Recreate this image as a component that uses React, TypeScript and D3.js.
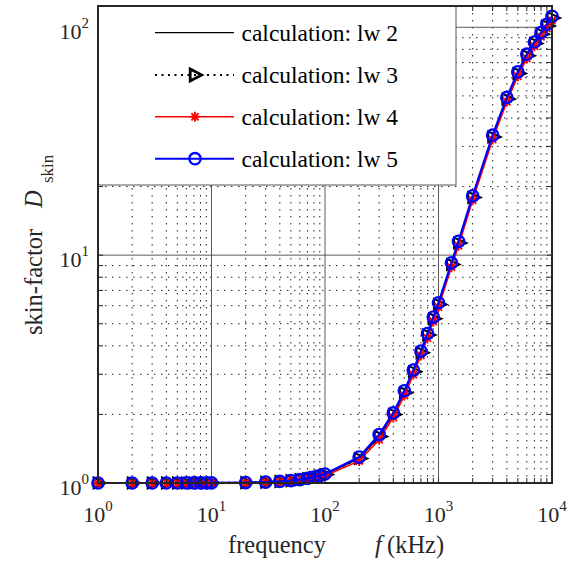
import React from "react";
import * as d3 from "d3";

const freqs = [1,2,3,4,5,6,7,8,9,10,20,30,40,50,60,70,80,90,100,200,300,400,500,600,700,800,900,1000,1300,1500,2000,3000,4000,5000,6000,7000,8000,9000,10000];
const lw5 = [1.000,1.000,1.000,1.000,1.000,1.001,1.001,1.001,1.001,1.001,1.004,1.009,1.016,1.025,1.035,1.047,1.061,1.077,1.095,1.30,1.63,2.03,2.54,3.13,3.79,4.53,5.35,6.18,9.25,11.5,18.2,33.6,49.2,63.7,76.2,86.2,94.8,103.0,111.7];
const lw4 = [1.000,1.000,1.000,1.000,1.000,1.000,1.000,1.000,1.001,1.001,1.003,1.007,1.012,1.019,1.027,1.037,1.049,1.062,1.077,1.25,1.55,1.94,2.42,2.99,3.63,4.33,5.12,5.92,8.85,11.0,17.4,32.2,47.1,61.0,73.0,82.6,90.8,98.7,107.0];
const lw3 = [1.000,1.000,1.000,1.000,1.000,1.000,1.001,1.001,1.001,1.001,1.004,1.008,1.015,1.023,1.033,1.044,1.057,1.072,1.089,1.28,1.60,2.00,2.49,3.08,3.73,4.46,5.26,6.08,9.10,11.3,17.9,33.0,48.4,62.7,75.0,84.8,93.3,101.4,109.9];
const lw2 = [1.000,1.000,1.000,1.000,1.000,1.000,1.001,1.001,1.001,1.001,1.004,1.008,1.015,1.023,1.033,1.044,1.057,1.072,1.089,1.28,1.60,2.00,2.49,3.08,3.73,4.46,5.26,6.08,9.10,11.3,17.9,33.0,48.4,62.7,75.0,84.8,93.3,101.4,109.9];
const legendLabels = ["calculation: lw 2","calculation: lw 3","calculation: lw 4","calculation: lw 5"];
const xMajor = [1,10,100,1000,10000];
const yMajor = [1,10,100];
const xDomain = [1, 10000];
const yDomain = [1, 124];

const L = 98, R = 552, T = 6, B = 483;
const FONT = "'Liberation Serif','Times New Roman',serif";

function Tri({ x, y, s = 5.5, w = 2, tip = 1.45 }: { x: number; y: number; s?: number; w?: number; tip?: number }) {
  return <path d={`M${x - s * 0.8},${y - s}L${x + s * tip},${y}L${x - s * 0.8},${y + s}Z`} fill="none" stroke="#000" strokeWidth={w} strokeLinejoin="miter" />;
}
function Star({ x, y, s = 5 }: { x: number; y: number; s?: number }) {
  const d = s * 0.72;
  return <path d={`M${x - s},${y}H${x + s}M${x},${y - s}V${y + s}M${x - d},${y - d}L${x + d},${y + d}M${x - d},${y + d}L${x + d},${y - d}`} stroke="#ff0000" strokeWidth={1.9} fill="none" />;
}
function Circ({ x, y }: { x: number; y: number }) {
  return <circle cx={x} cy={y} r={5.7} fill="none" stroke="#0000ff" strokeWidth={2.3} />;
}

export default function App() {
  const x = d3.scaleLog().domain(xDomain).range([L, R]);
  const y = d3.scaleLog().domain(yDomain).range([B, T]);
  const xMinor: number[] = [];
  for (let dcd = 1; dcd < 10000; dcd *= 10) for (let k = 2; k <= 9; k++) xMinor.push(dcd * k);
  const yMinor: number[] = [];
  for (let dcd = 1; dcd < 1000; dcd *= 10) for (let k = 2; k <= 9; k++) if (dcd * k <= yDomain[1]) yMinor.push(dcd * k);

  const mk = (vals: number[]) => d3.line<number>().x((_, i) => x(freqs[i])).y((v) => y(v))(vals) as string;
  const pts = (vals: number[]) => vals.map((v, i) => [x(freqs[i]), y(v)] as [number, number]);

  const legY = [32.7, 75, 116.7, 158.7];
  const lx1 = 155, lx2 = 234, lmx = 195;
  const tick = 5;

  return (
    <svg width={577} height={566} style={{ position: "absolute", left: 0, top: 0, background: "#fff" }} fontFamily={FONT}>
      <rect x={0} y={0} width={577} height={566} fill="#fff" />
      {xMinor.map((v) => (
        <line key={"xm" + v} x1={x(v)} x2={x(v)} y1={T} y2={B} stroke="#222" strokeWidth={1} strokeDasharray="1.5,5.5" />
      ))}
      {yMinor.map((v) => (
        <line key={"ym" + v} x1={L} x2={R} y1={y(v)} y2={y(v)} stroke="#222" strokeWidth={1} strokeDasharray="1.5,5.5" />
      ))}
      {xMajor.slice(1, -1).map((v) => (
        <line key={"xM" + v} x1={x(v)} x2={x(v)} y1={T} y2={B} stroke="#5a5a5a" strokeWidth={1} />
      ))}
      {yMajor.slice(1).map((v) => (
        <line key={"yM" + v} x1={L} x2={R} y1={y(v)} y2={y(v)} stroke="#5a5a5a" strokeWidth={1} />
      ))}
      <path d={mk(lw2)} fill="none" stroke="#000" strokeWidth={1.3} />
      <path d={mk(lw3)} fill="none" stroke="#000" strokeWidth={2} strokeDasharray="2,4.5" />
      {pts(lw3).map(([px, py], i) => <Tri key={"t" + i} x={px} y={py} />)}
      <path d={mk(lw4)} fill="none" stroke="#ff0000" strokeWidth={1.6} />
      {pts(lw4).map(([px, py], i) => <Star key={"s" + i} x={px} y={py} />)}
      <path d={mk(lw5)} fill="none" stroke="#0000ff" strokeWidth={2.2} />
      {pts(lw5).map(([px, py], i) => <Circ key={"c" + i} x={px} y={py} />)}

      {[...xMajor, ...xMinor].map((v) => (
        <g key={"xt" + v}>
          <line x1={x(v)} x2={x(v)} y1={B} y2={B - tick} stroke="#262626" strokeWidth={1} />
          <line x1={x(v)} x2={x(v)} y1={T} y2={T + tick} stroke="#262626" strokeWidth={1} />
        </g>
      ))}
      {[...yMajor, ...yMinor].map((v) => (
        <g key={"yt" + v}>
          <line x1={L} x2={L + tick} y1={y(v)} y2={y(v)} stroke="#262626" strokeWidth={1} />
          <line x1={R} x2={R - tick} y1={y(v)} y2={y(v)} stroke="#262626" strokeWidth={1} />
        </g>
      ))}

      <rect x={L} y={T} width={456 - L} height={185 - T} fill="#fff" stroke="#555" strokeWidth={1} />
      <line x1={lx1} x2={lx2} y1={legY[0]} y2={legY[0]} stroke="#000" strokeWidth={1.3} />
      <line x1={lx1} x2={lx2} y1={legY[1]} y2={legY[1]} stroke="#000" strokeWidth={2} strokeDasharray="2,4.5" />
      <Tri x={lmx} y={legY[1]} s={6} w={2.8} tip={1.1} />
      <line x1={lx1} x2={lx2} y1={legY[2]} y2={legY[2]} stroke="#ff0000" strokeWidth={1.5} />
      <Star x={lmx} y={legY[2]} />
      <line x1={lx1} x2={lx2} y1={legY[3]} y2={legY[3]} stroke="#0000ff" strokeWidth={2} />
      <Circ x={lmx} y={legY[3]} />
      {legendLabels.map((t, i) => (
        <text key={t} x={241.5} y={legY[i] + 8} fontSize={23.5} fill="#000">{t}</text>
      ))}

      <rect x={L} y={T} width={R - L} height={B - T} fill="none" stroke="#262626" strokeWidth={2} />

      {xMajor.map((v) => (
        <text key={"xl" + v} x={x(v)} y={B + 39} fontSize={22} textAnchor="middle" fill="#262626">
          10<tspan fontSize={15} dy={-11}>{Math.round(Math.log10(v))}</tspan>
        </text>
      ))}
      {yMajor.map((v) => (
        <text key={"yl" + v} x={89} y={y(v) + 12} fontSize={22} textAnchor="end" fill="#262626">
          10<tspan fontSize={15} dy={-11}>{Math.round(Math.log10(v))}</tspan>
        </text>
      ))}

      <text x={228} y={553} fontSize={24.5} fill="#262626">frequency</text>
      <text x={375} y={553} fontSize={24.5} fill="#262626" fontStyle="italic">f</text>
      <text x={387} y={553} fontSize={24.5} fill="#262626">(kHz)</text>

      <g transform="translate(42,0) rotate(-90)">
        <text x={-335} y={0} fontSize={24.5} fill="#262626">skin-factor</text>
        <text x={-208} y={0} fontSize={24.5} fill="#262626" fontStyle="italic">D</text>
        <text x={-183} y={11} fontSize={17} fill="#262626">skin</text>
      </g>
    </svg>
  );
}
